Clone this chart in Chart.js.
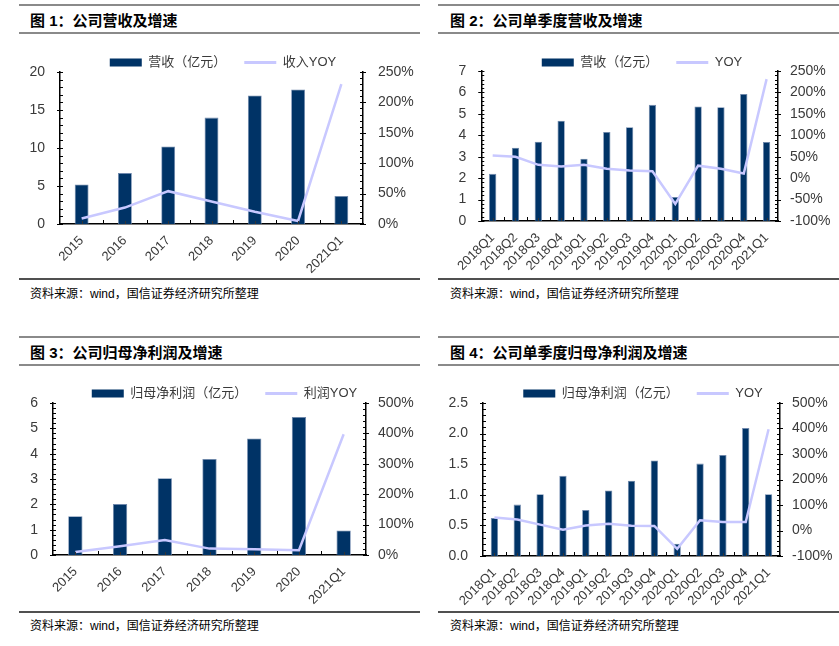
<!DOCTYPE html>
<html><head><meta charset="utf-8">
<script src="https://cdn.jsdelivr.net/npm/chart.js@4.4.1/dist/chart.umd.min.js"></script>
<style>
html,body{margin:0;padding:0;background:#fff;}
body{width:839px;height:646px;position:relative;overflow:hidden;font-family:"Liberation Sans","Noto Sans CJK SC",sans-serif;}
.tl{position:absolute;height:2px;background:#8a8a8a;}
.sl{position:absolute;height:1.5px;background:#505050;}
.title{position:absolute;font-weight:bold;font-size:15px;line-height:18px;color:#000;white-space:nowrap;font-family:"Liberation Sans","Noto Sans CJK SC",sans-serif;}
.src{position:absolute;font-size:12px;line-height:14px;color:#000;white-space:nowrap;font-family:"Liberation Sans","Noto Sans CJK SC",sans-serif;}
canvas{position:absolute;}
</style></head><body>

<div class="tl" style="left:19px;top:4px;width:401px"></div>
<div class="title" style="left:30px;top:12px">图 1：公司营收及增速</div>
<div class="tl" style="left:19px;top:32px;width:401px"></div>
<div class="sl" style="left:19px;top:278px;width:401px"></div>
<div class="src" style="left:30px;top:287px">资料来源：wind，国信证券经济研究所整理</div>

<div class="tl" style="left:438px;top:4px;width:401px"></div>
<div class="title" style="left:450px;top:12px">图 2：公司单季度营收及增速</div>
<div class="tl" style="left:438px;top:32px;width:401px"></div>
<div class="sl" style="left:438px;top:278px;width:401px"></div>
<div class="src" style="left:450px;top:287px">资料来源：wind，国信证券经济研究所整理</div>

<div class="tl" style="left:19px;top:336px;width:401px"></div>
<div class="title" style="left:30px;top:344px">图 3：公司归母净利润及增速</div>
<div class="tl" style="left:19px;top:364px;width:401px"></div>
<div class="sl" style="left:19px;top:611px;width:401px"></div>
<div class="src" style="left:30px;top:619px">资料来源：wind，国信证券经济研究所整理</div>

<div class="tl" style="left:438px;top:336px;width:401px"></div>
<div class="title" style="left:450px;top:344px">图 4：公司单季度归母净利润及增速</div>
<div class="tl" style="left:438px;top:364px;width:401px"></div>
<div class="sl" style="left:438px;top:611px;width:401px"></div>
<div class="src" style="left:450px;top:619px">资料来源：wind，国信证券经济研究所整理</div>

<canvas id="c1"></canvas>
<canvas id="c2"></canvas>
<canvas id="c3"></canvas>
<canvas id="c4"></canvas>

<script>
// ---------- data ----------
const yearCats = ['2015','2016','2017','2018','2019','2020','2021Q1'];
const quarterCats = ['2018Q1','2018Q2','2018Q3','2018Q4','2019Q1','2019Q2','2019Q3','2019Q4','2020Q1','2020Q2','2020Q3','2020Q4','2021Q1'];

const annualRevenue    = [5.2, 6.7, 10.2, 14.0, 16.9, 17.7, 3.7];
const annualRevenueYoy = [9, 27, 54, 37, 20, 5, 230];

const quarterRevenue    = [2.2, 3.42, 3.7, 4.68, 2.91, 4.15, 4.38, 5.42, 1.12, 5.34, 5.31, 5.93, 3.69];
const quarterRevenueYoy = [53, 50, 31, 27, 31, 22, 18, 16, -60, 29, 22, 11, 231];

const annualProfit    = [1.53, 2.01, 3.03, 3.79, 4.6, 5.45, 0.97];
const annualProfitYoy = [10, 29, 49, 21, 19, 16, 397];

const quarterProfit    = [0.62, 0.84, 1.01, 1.31, 0.75, 1.07, 1.23, 1.56, 0.2, 1.51, 1.65, 2.09, 1.01];
const quarterProfitYoy = [51, 43, 23, 3, 20, 26, 19, 18, -72, 40, 33, 33, 397];

// tick labels (axis values)
const ticksRev1   = [0, 5, 10, 15, 20];
const ticksYoy1   = [0, 50, 100, 150, 200, 250];
const ticksRev2   = [0, 1, 2, 3, 4, 5, 6, 7];
const ticksYoy2   = [-100, -50, 0, 50, 100, 150, 200, 250];
const ticksProf3  = [0, 1, 2, 3, 4, 5, 6];
const ticksYoy3   = [0, 100, 200, 300, 400, 500];
const ticksProf4  = [0, 0.5, 1.0, 1.5, 2.0, 2.5];
const ticksYoy4   = [-100, 0, 100, 200, 300, 400, 500];

// ---------- styles ----------
const NAVY = '#003366';
const LAV = 'rgb(200,200,255)';
const TXT = '#3a3a3a';
const NUMFONT = '"Liberation Sans", "Noto Sans CJK SC", sans-serif';

const axisDeco = {
  id: 'axisDeco',
  afterDraw(chart, args, o) {
    const ctx = chart.ctx;
    const xs = chart.scales.x, yl = chart.scales.y, yr = chart.scales.y1;
    ctx.save();
    ctx.strokeStyle = '#000';
    ctx.lineWidth = 1;
    const seg = (x1, y1, x2, y2) => { ctx.beginPath(); ctx.moveTo(x1, y1); ctx.lineTo(x2, y2); ctx.stroke(); };
    const yTicks = (scale, step, ax, dir) => {
      const n = Math.round((scale.max - scale.min) / step);
      for (let i = 0; i <= n; i++) {
        const p = Math.round(scale.getPixelForValue(scale.min + i * step)) + 0.5;
        seg(ax, p, ax + dir * 3, p);
      }
      scale.ticks.forEach(t => {
        const p = Math.round(scale.getPixelForValue(t.value)) + 0.5;
        seg(ax - dir * 3, p, ax + dir * 3, p);
      });
    };
    yTicks(yl, o.leftMinor, yl.right, 1);
    yTicks(yr, o.rightMinor, yr.left, -1);
    const n = xs.ticks.length;
    const w = (xs.right - xs.left) / n;
    const by = xs.top;
    for (let k = 1; k < n; k++) {
      const p = Math.round(xs.left + k * w) + 0.5;
      seg(p, by, p, by - 4);
    }
    ctx.strokeStyle = '#333';
    for (let k = 0; k < n; k++) {
      const p = Math.round(xs.getPixelForValue(k)) + 0.5;
      seg(p, by, p, by - 3);
    }
    ctx.restore();
  }
};

const legendFix = {
  id: 'legendFix',
  beforeLayout(chart, args, o) {
    const lg = chart.legend;
    if (lg && !lg._fixed) {
      const fit = lg.fit;
      lg.fit = function () { fit.call(this); this.height = o.h; };
      lg._fixed = true;
    }
  }
};

function makeChart(id, g, cats, bars, barLabel, yoy, yoyLabel, leftTicks, rightTicks, leftMinor, rightMinor, leftFmt) {
  const cv = document.getElementById(id);
  cv.style.left = g.cl + 'px';
  cv.style.top = g.ct + 'px';
  cv.width = g.cw; cv.height = g.ch;
  cv.style.width = g.cw + 'px'; cv.style.height = g.ch + 'px';
  const setTicks = arr => s => { s.ticks = arr.map(v => ({ value: v })); };
  return new Chart(cv, {
    data: {
      labels: cats,
      datasets: [
        { type: 'line', label: yoyLabel, data: yoy, yAxisID: 'y1', borderColor: LAV, backgroundColor: LAV,
          borderWidth: 2.5, pointRadius: 0, tension: 0, order: 0 },
        { type: 'bar', label: barLabel, data: bars, yAxisID: 'y', backgroundColor: NAVY,
          borderColor: '#6f88ad', borderWidth: 0.8, barPercentage: 0.64, categoryPercentage: 0.5, order: 1 }
      ]
    },
    options: {
      responsive: false, animation: false, maintainAspectRatio: false,
      layout: { padding: 0 },
      plugins: {
        tooltip: { enabled: false },
        legendFix: { h: g.pt - g.ct },
        axisDeco: { leftMinor, rightMinor },
        legend: {
          position: 'top',
          labels: {
            usePointStyle: true, pointStyleWidth: 32, boxHeight: 8, padding: 18,
            font: { family: NUMFONT, size: 13 }, color: TXT,
            generateLabels: (chart) => [
              { text: barLabel, fillStyle: NAVY, strokeStyle: NAVY, lineWidth: 0, pointStyle: 'rect', datasetIndex: 1, hidden: false, fontColor: TXT },
              { text: yoyLabel, fillStyle: LAV, strokeStyle: LAV, lineWidth: 3, pointStyle: 'line', datasetIndex: 0, hidden: false, fontColor: TXT }
            ]
          }
        }
      },
      scales: {
        x: {
          type: 'category', offset: true,
          grid: { display: false, drawTicks: false },
          border: { display: true, color: '#000', width: 1.5 },
          ticks: { minRotation: 45, maxRotation: 45, autoSkip: false, padding: 9, color: TXT, font: { family: NUMFONT, size: 13 } },
          afterFit: s => { s.height = g.ct + g.ch - g.pb; }
        },
        y: {
          position: 'left', min: leftTicks[0], max: leftTicks[leftTicks.length - 1],
          grid: { display: false, drawTicks: false },
          border: { display: true, color: '#000', width: 1.5 },
          afterBuildTicks: setTicks(leftTicks),
          ticks: { padding: 15, color: TXT, font: { family: NUMFONT, size: 14 }, callback: v => leftFmt(v) },
          afterFit: s => { s.width = g.pl - g.cl; }
        },
        y1: {
          position: 'right', min: rightTicks[0], max: rightTicks[rightTicks.length - 1],
          grid: { display: false, drawTicks: false },
          border: { display: true, color: '#000', width: 1.5 },
          afterBuildTicks: setTicks(rightTicks),
          ticks: { padding: g.rp, color: TXT, font: { family: NUMFONT, size: 14 }, callback: v => v + '%' },
          afterFit: s => { s.width = g.cl + g.cw - g.pr; }
        }
      }
    },
    plugins: [legendFix, axisDeco]
  });
}

const intFmt = v => String(v);
const decFmt = v => v.toFixed(1);

makeChart('c1', { cl: 26, ct: 38, cw: 394, ch: 238, pl: 60, pr: 363, pt: 72, pb: 224, rp: 15 },
  yearCats, annualRevenue, '营收（亿元）', annualRevenueYoy, '收入YOY', ticksRev1, ticksYoy1, 1, 10, intFmt);

makeChart('c2', { cl: 450, ct: 38, cw: 384, ch: 238, pl: 475, pr: 778, pt: 71, pb: 221, rp: 12 },
  quarterCats, quarterRevenue, '营收（亿元）', quarterRevenueYoy, 'YOY', ticksRev2, ticksYoy2, 0.2, 10, intFmt);

makeChart('c3', { cl: 29, ct: 369, cw: 391, ch: 239, pl: 53, pr: 366, pt: 403, pb: 555, rp: 12 },
  yearCats, annualProfit, '归母净利润（亿元）', annualProfitYoy, '利润YOY', ticksProf3, ticksYoy3, 0.2, 20, intFmt);

makeChart('c4', { cl: 447, ct: 369, cw: 392, ch: 239, pl: 483, pr: 780, pt: 403, pb: 556, rp: 12 },
  quarterCats, quarterProfit, '归母净利润（亿元）', quarterProfitYoy, 'YOY', ticksProf4, ticksYoy4, 0.1, 20, decFmt);
</script>
</body></html>
